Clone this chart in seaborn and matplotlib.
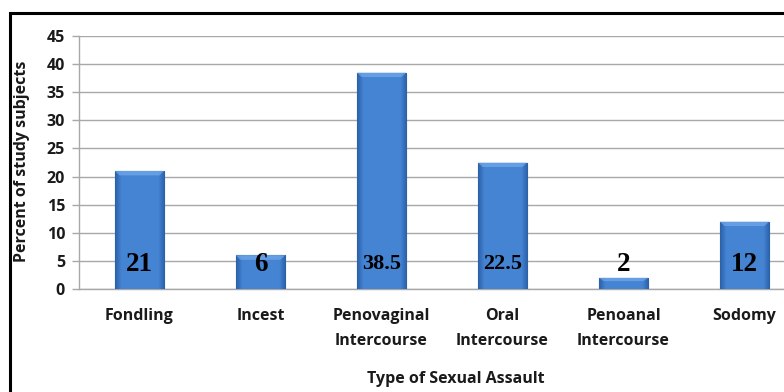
import numpy as np
import pandas as pd
import matplotlib
matplotlib.use("Agg")
import matplotlib.pyplot as plt
from matplotlib.patches import Rectangle, Polygon
import seaborn as sns

categories = ["Fondling", "Incest", "Penovaginal\nIntercourse", "Oral\nIntercourse",
              "Penoanal\nIntercourse", "Sodomy"]
percent = [21, 6, 38.5, 22.5, 2, 12]
value_labels = ["21", "6", "38.5", "22.5", "2", "12"]
yticks = [0, 5, 10, 15, 20, 25, 30, 35, 40, 45]

df = pd.DataFrame({"type": categories, "percent": percent})

sns.set_theme(style="white")
plt.rcParams["font.family"] = ["Open Sans", "DejaVu Sans"]

W, H = 784, 392
FS = 11.5
fig = plt.figure(figsize=(W / 100, H / 100), dpi=100)
ax = fig.add_axes([79 / W, 1 - 289 / H, 726 / W, (289 - 36) / H])

sns.barplot(data=df, x="type", y="percent", ax=ax, color="#3f7fcf",
            width=0.41, edgecolor="#24528f", linewidth=0.8, zorder=3)

# horizontal gradient shading inside each bar
grad = np.linspace(0, 1, 64)
shade = np.clip((1 - np.abs(grad - 0.5) * 2) * 4, 0, 1)
dark = np.array([0.17, 0.38, 0.66])
light = np.array([0.27, 0.52, 0.83])
img = (dark[None, :] + (light - dark)[None, :] * shade[:, None])[None, :, :]
for p in ax.patches:
    x0, y0 = p.get_x(), p.get_y()
    w, h = p.get_width(), p.get_height()
    im = ax.imshow(img, extent=[x0, x0 + w, y0, y0 + h], aspect="auto",
                   zorder=3.5, interpolation="bicubic")
    im.set_clip_path(p)
    # lighter bevel along the top edge
    bh = min(0.8, h * 0.3)
    bw = w * 0.1
    ax.add_patch(Polygon([(x0, y0 + h), (x0 + w, y0 + h), (x0 + w - bw, y0 + h - bh),
                          (x0 + bw, y0 + h - bh)], closed=True, facecolor="#7eb0ee",
                         edgecolor="none", alpha=0.6, zorder=3.6))

ax.set_xlim(-0.5, 5.5)
ax.set_ylim(0, 45)
ax.set_yticks(yticks)
ax.yaxis.grid(True, color="#a8a8a8", linewidth=1.0, zorder=0)
ax.set_axisbelow(True)
for s in ["top", "right"]:
    ax.spines[s].set_visible(False)
for s in ["left", "bottom"]:
    ax.spines[s].set_color("#a8a8a8")
    ax.spines[s].set_linewidth(1.0)
ax.tick_params(axis="y", which="major", left=True, length=5, width=1.0,
               color="#a8a8a8", pad=5, labelsize=FS)
ax.tick_params(axis="x", length=0, pad=13.5, labelsize=FS)
for lab in ax.get_yticklabels() + ax.get_xticklabels():
    lab.set_fontweight("bold")
    lab.set_color("#1a1a1a")
for lab in ax.get_xticklabels():
    lab.set_linespacing(1.75)
ax.set_xlabel("")
ax.set_ylabel("")

# value labels near the base of each bar
for i, (v, t) in enumerate(zip(percent, value_labels)):
    size = 19.5 if len(t) <= 2 else 16
    ax.text(i, 4.4, t, ha="center", va="center", fontsize=size,
            fontweight="bold", family="Liberation Serif", color="black", zorder=5)

fig.text(22 / W, 1 - 161 / H, "Percent of study subjects", rotation=90,
         ha="center", va="center", fontsize=FS, fontweight="bold", color="#1a1a1a")
fig.text(456 / W, 1 - 379 / H, "Type of Sexual Assault", ha="center", va="center",
         fontsize=FS, fontweight="bold", color="#1a1a1a")

# outer frame
fig.patches.append(Rectangle((9.5 / W, -0.1), 1.2, 1 - 13 / H + 0.1,
                             transform=fig.transFigure, fill=False,
                             edgecolor="black", linewidth=2.2))

fig.savefig("out.png", dpi=100)
